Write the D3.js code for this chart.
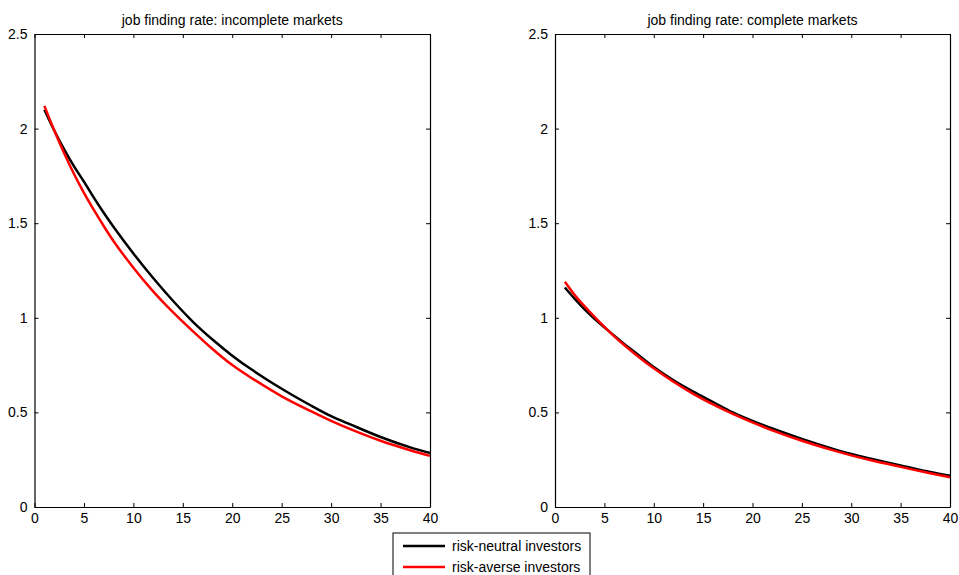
<!DOCTYPE html>
<html>
<head>
<meta charset="utf-8">
<script src="https://cdnjs.cloudflare.com/ajax/libs/d3/7.8.5/d3.min.js"></script>
<style>
  body { margin: 0; background: #fff; }
  text { font-family: "Liberation Sans", Arial, sans-serif; font-size: 14px; fill: #000; }
</style>
</head>
<body>
<script>
// periods on the x axis
var periods = [1, 2, 3, 4, 5, 6, 7, 8, 10, 12, 14, 16, 18, 20, 22, 25, 28, 30, 32, 35, 38, 40];

// incomplete markets
var incNeutral = [2.10, 1.99, 1.89, 1.80, 1.72, 1.635, 1.555, 1.48, 1.34, 1.21, 1.09, 0.98, 0.885, 0.80, 0.725, 0.625, 0.535, 0.48, 0.435, 0.37, 0.315, 0.285];
var incAverse = [2.12, 1.99, 1.87, 1.76, 1.66, 1.57, 1.485, 1.405, 1.265, 1.14, 1.03, 0.93, 0.835, 0.75, 0.68, 0.585, 0.505, 0.455, 0.41, 0.35, 0.30, 0.27];

// complete markets
var comNeutral = [1.16, 1.10, 1.045, 0.995, 0.95, 0.905, 0.862, 0.822, 0.74, 0.67, 0.61, 0.555, 0.50, 0.455, 0.415, 0.36, 0.31, 0.28, 0.255, 0.22, 0.185, 0.165];
var comAverse = [1.19, 1.12, 1.06, 1.005, 0.952, 0.902, 0.856, 0.813, 0.733, 0.662, 0.598, 0.542, 0.492, 0.447, 0.405, 0.35, 0.302, 0.273, 0.247, 0.212, 0.178, 0.157];

var xTicks = [0, 5, 10, 15, 20, 25, 30, 35, 40];
var yTicks = [0, 0.5, 1, 1.5, 2, 2.5];
var titles = ["job finding rate: incomplete markets", "job finding rate: complete markets"];
var seriesNames = ["risk-neutral investors", "risk-averse investors"];
var seriesColors = ["#000000", "#ff0000"];

var width = 959, height = 575;

var svg = d3.select("body").append("svg")
    .attr("width", width)
    .attr("height", height);

var panels = [
    { left: 34.5, right: 430, title: titles[0], series: [incNeutral, incAverse] },
    { left: 555, right: 950, title: titles[1], series: [comNeutral, comAverse] }
];
var plotTop = 34, plotBottom = 507;

panels.forEach(function (p) {
    var x = d3.scaleLinear().domain([0, 40]).range([p.left, p.right]);
    var y = d3.scaleLinear().domain([0, 2.5]).range([plotBottom, plotTop]);

    var g = svg.append("g");

    // lines
    var line = d3.line()
        .x(function (d, i) { return x(periods[i]); })
        .y(function (d) { return y(d); })
        .curve(d3.curveCatmullRom.alpha(0.5));

    p.series.forEach(function (s, k) {
        g.append("path")
            .datum(s)
            .attr("d", line)
            .attr("fill", "none")
            .attr("stroke", seriesColors[k])
            .attr("stroke-width", 2.5);
    });

    // box axes, ticks pointing inward
    var fmt = function (d) { return d3.format("")(d); };
    g.append("g")
        .attr("transform", "translate(0," + plotBottom + ")")
        .call(d3.axisBottom(x).tickValues(xTicks).tickSizeInner(-4).tickSizeOuter(0).tickPadding(6).tickFormat(fmt));
    g.append("g")
        .attr("transform", "translate(0," + plotTop + ")")
        .call(d3.axisTop(x).tickValues(xTicks).tickSizeInner(-4).tickSizeOuter(0).tickFormat(""));
    g.append("g")
        .attr("transform", "translate(" + p.left + ",0)")
        .call(d3.axisLeft(y).tickValues(yTicks).tickSizeInner(-4).tickSizeOuter(0).tickPadding(7).tickFormat(fmt));
    g.append("g")
        .attr("transform", "translate(" + p.right + ",0)")
        .call(d3.axisRight(y).tickValues(yTicks).tickSizeInner(-4).tickSizeOuter(0).tickFormat(""));

    g.selectAll(".domain").attr("stroke", "#000").attr("stroke-width", 1.2);
    g.selectAll(".tick line").attr("stroke", "#000");
    g.selectAll("text").attr("font-family", null).attr("font-size", null);

    g.append("text")
        .attr("x", (p.left + p.right) / 2)
        .attr("y", 25)
        .attr("text-anchor", "middle")
        .text(p.title);
});

// legend
var legend = svg.append("g").attr("transform", "translate(393,533)");
legend.append("rect")
    .attr("width", 197)
    .attr("height", 52)
    .attr("fill", "#fff")
    .attr("stroke", "#000")
    .attr("stroke-width", 1);

var rows = legend.selectAll("g.row")
    .data(seriesNames)
    .enter().append("g")
    .attr("class", "row")
    .attr("transform", function (d, i) { return "translate(0," + (13 + i * 21) + ")"; });

rows.append("line")
    .attr("x1", 10).attr("x2", 52)
    .attr("stroke", function (d, i) { return seriesColors[i]; })
    .attr("stroke-width", 2.5);

rows.append("text")
    .attr("x", 59)
    .attr("y", 5)
    .text(function (d) { return d; });
</script>
</body>
</html>
